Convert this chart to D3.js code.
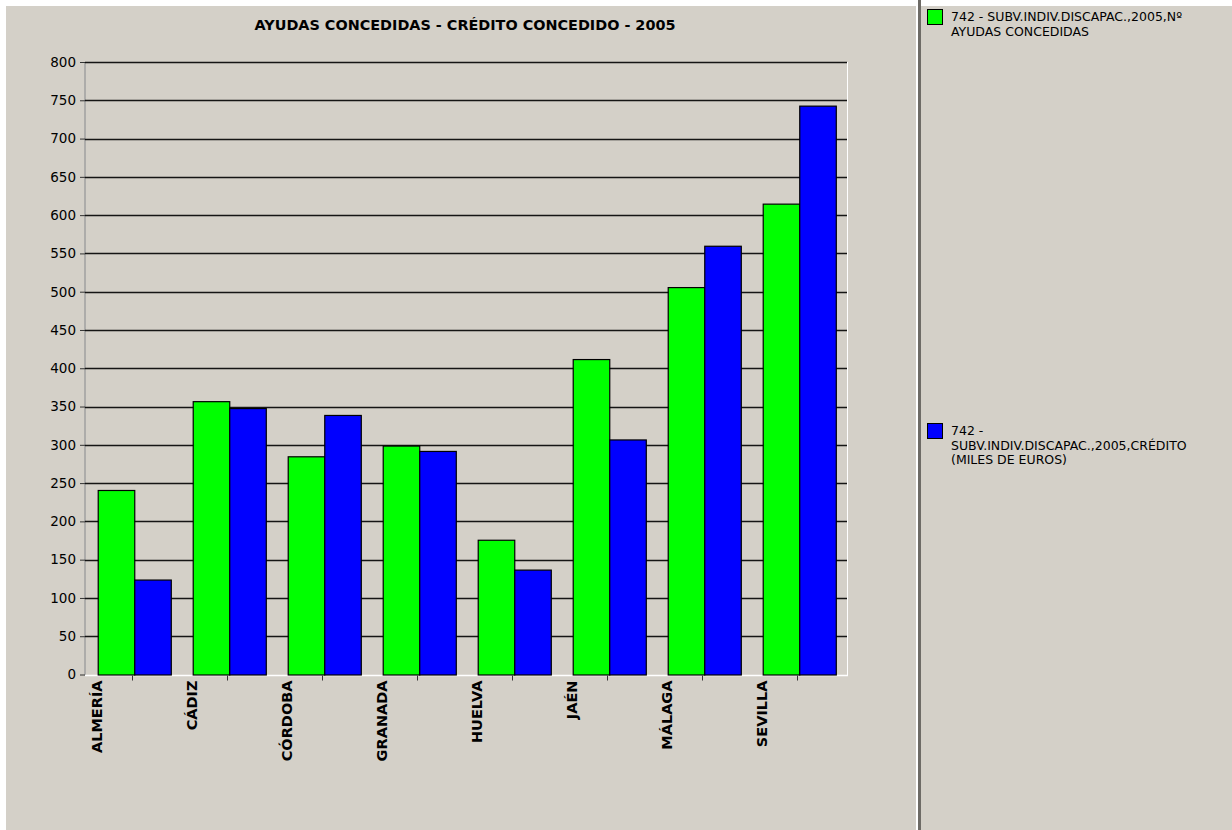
<!DOCTYPE html>
<html><head><meta charset="utf-8">
<script src="https://cdn.jsdelivr.net/npm/d3@7"></script>
<style>
html,body{margin:0;padding:0;background:#fff;}
svg{display:block;}
</style></head>
<body>
<svg id="c" width="1232" height="830"></svg>
<script>
const categories = ["ALMERÍA","CÁDIZ","CÓRDOBA","GRANADA","HUELVA","JAÉN","MÁLAGA","SEVILLA"];
const ayudas = [241, 357, 285, 299, 176, 412, 506, 615];
const credito = [124, 348, 339, 292, 137, 307, 560, 743];
const yTicks = [0,50,100,150,200,250,300,350,400,450,500,550,600,650,700,750,800];
const seriesNames = ["742 - SUBV.INDIV.DISCAPAC.,2005,Nº AYUDAS CONCEDIDAS", "742 - SUBV.INDIV.DISCAPAC.,2005,CRÉDITO (MILES DE EUROS)"];
const colors = ["#00ff00", "#0000ff"];
const title = "AYUDAS CONCEDIDAS - CRÉDITO CONCEDIDO - 2005";

const svg = d3.select("#c");
const font = "'DejaVu Sans', Verdana, sans-serif";
const bg = "#d4d0c8";

svg.append("rect").attr("x",6).attr("y",6).attr("width",1226).attr("height",824).attr("fill",bg);

// separator
svg.append("rect").attr("x",916).attr("y",0).attr("width",2).attr("height",830).attr("fill","#ffffff");
svg.append("rect").attr("x",918).attr("y",0).attr("width",3).attr("height",830).attr("fill","#6e6b66");

const L = 85, R = 847, T = 62, B = 674.5;
const x = d3.scaleBand().domain(categories).range([L, 845]).paddingInner(0).paddingOuter(0);
const y = d3.scaleLinear().domain([0, 800]).range([B, T]);
const inner = d3.scaleBand().domain([0,1]).range([0, x.bandwidth()]).paddingInner(0).paddingOuter(0.3).align(0.58);

// plot borders
svg.append("line").attr("x1",L).attr("x2",L).attr("y1",T).attr("y2",B+1).attr("stroke","#a0a0a0").attr("stroke-width",1.5);
svg.append("line").attr("x1",R+0.5).attr("x2",R+0.5).attr("y1",T).attr("y2",B+1).attr("stroke","#ffffff").attr("stroke-width",1);
svg.append("line").attr("x1",L).attr("x2",R+1).attr("y1",B+1).attr("y2",B+1).attr("stroke","#ffffff").attr("stroke-width",1.5);

// gridlines
svg.append("g").selectAll("line").data(yTicks.filter(d=>d>0)).join("line")
  .attr("x1",L).attr("x2",R).attr("y1",d=>Math.round(y(d))+0.5).attr("y2",d=>Math.round(y(d))+0.5)
  .attr("stroke","#000").attr("stroke-width",1.5).attr("stroke-opacity",0.9);

// y axis
const yAxis = d3.axisLeft(y).tickValues(yTicks).tickSize(5).tickSizeOuter(0).tickPadding(4);
const gy = svg.append("g").attr("transform",`translate(${L},0)`).call(yAxis);
gy.select(".domain").remove();
gy.selectAll(".tick line").attr("stroke","#333");
gy.selectAll("text").attr("font-family",font).attr("font-size",13.5).attr("fill","#000");

// bars
const groups = svg.append("g").selectAll("g").data(categories).join("g")
  .attr("transform",d=>`translate(${x(d)},0)`);
groups.selectAll("rect").data((d,i)=>[ayudas[i], credito[i]]).join("rect")
  .attr("x",(d,j)=>inner(j)+0.5)
  .attr("width",inner.bandwidth())
  .attr("y",d=>y(d)+0.5)
  .attr("height",d=>B-y(d))
  .attr("fill",(d,j)=>colors[j])
  .attr("stroke","#000").attr("stroke-width",1.2);

// x axis ticks
const xAxis = d3.axisBottom(x).tickSize(5).tickSizeOuter(0).tickFormat("");
const gx = svg.append("g").attr("transform",`translate(0,${B+1})`).call(xAxis);
gx.select(".domain").remove();
gx.selectAll(".tick line").attr("stroke","#333");

// x labels
svg.append("g").selectAll("text").data(categories).join("text")
  .attr("transform",d=>`translate(${x(d)+17},${B+6}) rotate(-90)`)
  .attr("text-anchor","end")
  .attr("font-family",font).attr("font-weight","bold").attr("font-size",14.5)
  .attr("fill","#000")
  .text(d=>d);

// title
svg.append("text").attr("x",465).attr("y",30).attr("text-anchor","middle")
  .attr("font-family",font).attr("font-weight","bold").attr("font-size",14.4)
  .text(title);

// legend
const legendItems = [
  {y:9, lines:["742 - SUBV.INDIV.DISCAPAC.,2005,Nº","AYUDAS CONCEDIDAS"]},
  {y:423, lines:["742 -","SUBV.INDIV.DISCAPAC.,2005,CRÉDITO","(MILES DE EUROS)"]}
];
legendItems.forEach((it,i)=>{
  svg.append("rect").attr("x",927.5).attr("y",it.y+0.5).attr("width",15).attr("height",15)
    .attr("fill",colors[i]).attr("stroke","#000").attr("stroke-width",1);
  const t = svg.append("text").attr("x",951).attr("y",it.y+12)
    .attr("font-family",font).attr("font-size",12.5).attr("fill","#000");
  it.lines.forEach((ln,k)=>{
    t.append("tspan").attr("x",951).attr("dy",k===0?0:14.5).text(ln);
  });
});
</script>
</body></html>
